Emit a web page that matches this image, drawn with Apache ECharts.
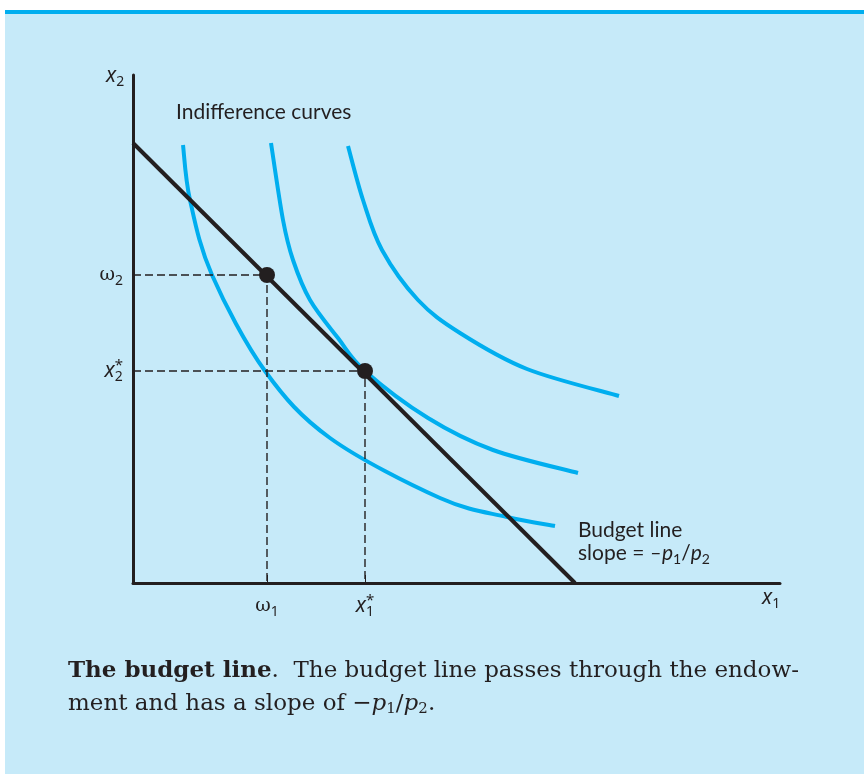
<!DOCTYPE html>
<html>
<head>
<meta charset="utf-8">
<script src="https://cdn.jsdelivr.net/npm/echarts@6/dist/echarts.min.js"></script>
<style>
  html, body { margin: 0; padding: 0; background: #fff; }
  #main { width: 864px; height: 774px; }
</style>
</head>
<body>
<div id="main"></div>
<script>
// budget line and the three indifference curves (x1, x2 in axis units)
var budgetLine = [[0, 440], [442, 0]];
var curveLow = [[50, 438], [57, 383], [79, 308], [132, 212], [197, 145], [307, 85], [374, 66], [422, 57]];
var curveMid = [[138, 440], [150, 363], [160, 323], [177, 283], [205, 245], [232, 212], [295, 165], [360, 133], [445, 110]];
var curveHigh = [[215, 437], [230, 383], [249, 333], [285, 283], [327, 250], [394, 214], [486, 187]];
// endowment (w1, w2) and the optimal choice (x1*, x2*)
var endowment = [134, 308];
var optimum = [232, 212];
var xTicks = [134, 232];
var yTicks = [212, 308];

var ink = '#231f20';
var blue = '#00aeef';

var chart = echarts.init(document.getElementById('main'));

function dropLines(p) {
  return [[0, p[1]], [p[0], p[1]], [p[0], 0]];
}

// smooth curve through the points (catmull-rom -> bezier), coords via the axes
function curveSeries(points) {
  return {
    type: 'custom',
    data: points,
    renderItem: function (params, api) {
      if (params.dataIndex !== 0) return;
      var p = points.map(function (d) { return api.coord(d); });
      var path = 'M' + p[0][0] + ' ' + p[0][1];
      for (var i = 0; i < p.length - 1; i++) {
        var p0 = p[i - 1] || p[i], p1 = p[i], p2 = p[i + 1], p3 = p[i + 2] || p[i + 1];
        var c1x = p1[0] + (p2[0] - p0[0]) / 6, c1y = p1[1] + (p2[1] - p0[1]) / 6;
        var c2x = p2[0] - (p3[0] - p1[0]) / 6, c2y = p2[1] - (p3[1] - p1[1]) / 6;
        path += ' C' + c1x + ' ' + c1y + ' ' + c2x + ' ' + c2y + ' ' + p2[0] + ' ' + p2[1];
      }
      return { type: 'path', shape: { pathData: path }, style: { stroke: blue, lineWidth: 4, fill: null } };
    }
  };
}

var labelRich = {
  w: { fontFamily: 'DejaVu Serif', fontSize: 19, color: ink },
  x: { fontFamily: 'Noto Sans', fontStyle: 'italic', fontSize: 21, color: ink },
  sub: { fontFamily: 'Noto Sans', fontSize: 14, color: ink, padding: [12, 0, 0, 0] },
  sup: { fontFamily: 'Noto Sans', fontSize: 15, color: ink, padding: [0, 0, 10, -8] }
};

var option = {
  backgroundColor: '#ffffff',
  animation: false,
  grid: { left: 133, top: 75, width: 647, height: 508 },
  xAxis: {
    type: 'value', min: 0, max: 647,
    splitLine: { show: false },
    axisLine: { lineStyle: { color: ink, width: 3 } },
    axisTick: { show: true, inside: true, length: 8, customValues: xTicks, lineStyle: { color: ink, width: 1 } },
    axisLabel: {
      customValues: xTicks, margin: 10, color: ink, fontSize: 19,
      formatter: function (v) { return v === endowment[0] ? '{w|ω}{sub|1}' : '{x|x}{sub|1}{sup|*}'; },
      rich: labelRich
    }
  },
  yAxis: {
    type: 'value', min: 0, max: 508,
    splitLine: { show: false },
    axisLine: { lineStyle: { color: ink, width: 3 } },
    axisTick: { show: false },
    axisLabel: {
      customValues: yTicks, margin: 10, color: ink, fontSize: 19,
      formatter: function (v) { return v === endowment[1] ? '{w|ω}{sub|2}' : '{x|x}{sub|2}{sup|*}'; },
      rich: labelRich
    }
  },
  series: [
    curveSeries(curveLow),
    curveSeries(curveMid),
    curveSeries(curveHigh),
    { type: 'line', data: dropLines(endowment), symbol: 'none', lineStyle: { color: ink, width: 1.4, type: [8, 4] } },
    { type: 'line', data: dropLines(optimum), symbol: 'none', lineStyle: { color: ink, width: 1.4, type: [8, 4] } },
    { type: 'line', data: budgetLine, symbol: 'none', lineStyle: { color: ink, width: 4 }, z: 5 },
    { type: 'scatter', data: [endowment, optimum], symbolSize: 16, itemStyle: { color: ink, opacity: 1 }, z: 6 }
  ],
  graphic: [
    { type: 'rect', z: -10, shape: { x: 5, y: 10, width: 859, height: 764 }, style: { fill: '#c6eaf9' } },
    { type: 'rect', z: -9, shape: { x: 5, y: 10, width: 859, height: 4 }, style: { fill: blue } },
    { type: 'text', left: 106, top: 66, style: { text: '{x|x}{sub|2}', rich: {
      x: { fontFamily: 'Noto Sans', fontStyle: 'italic', fontSize: 21, fill: ink },
      sub: { fontFamily: 'Noto Sans', fontSize: 14, fill: ink, padding: [12, 0, 0, 0] } } } },
    { type: 'text', left: 762, top: 588, style: { text: '{x|x}{sub|1}', rich: {
      x: { fontFamily: 'Noto Sans', fontStyle: 'italic', fontSize: 21, fill: ink },
      sub: { fontFamily: 'Noto Sans', fontSize: 14, fill: ink, padding: [12, 0, 0, 0] } } } },
    { type: 'text', left: 176, top: 102, style: { text: 'Indifference curves', fontFamily: 'Lato', fontSize: 21, fill: ink } },
    { type: 'text', left: 578, top: 520, style: { text: 'Budget line', fontFamily: 'Lato', fontSize: 21, fill: ink } },
    { type: 'text', left: 578, top: 543, style: { text: '{n|slope = }{i|–p}{s|1}{n|/}{i|p}{s|2}', rich: {
      i: { fontFamily: 'Lato', fontStyle: 'italic', fontSize: 21, fill: ink },
      n: { fontFamily: 'Lato', fontSize: 21, fill: ink },
      s: { fontFamily: 'Lato', fontSize: 14, fill: ink, padding: [11, 0, 0, 0] } } } },
    { type: 'text', left: 68, top: 660, style: {
      text: '{b|The budget line}{r|.  The budget line passes through the endow-}',
      rich: {
        b: { fontFamily: 'DejaVu Serif', fontWeight: 'bold', fontSize: 23, fill: ink },
        r: { fontFamily: 'DejaVu Serif', fontSize: 23, fill: ink }
      } } },
    { type: 'text', left: 68, top: 693, style: {
      text: '{r|ment and has a slope of −}{i|p}{s|1}{r|/}{i|p}{s|2}{r|.}',
      rich: {
        r: { fontFamily: 'DejaVu Serif', fontSize: 23, fill: ink },
        i: { fontFamily: 'DejaVu Serif', fontStyle: 'italic', fontSize: 23, fill: ink },
        s: { fontFamily: 'DejaVu Serif', fontSize: 15, fill: ink, padding: [10, 0, 0, 0] }
      } } }
  ]
};

chart.setOption(option);
</script>
</body>
</html>
